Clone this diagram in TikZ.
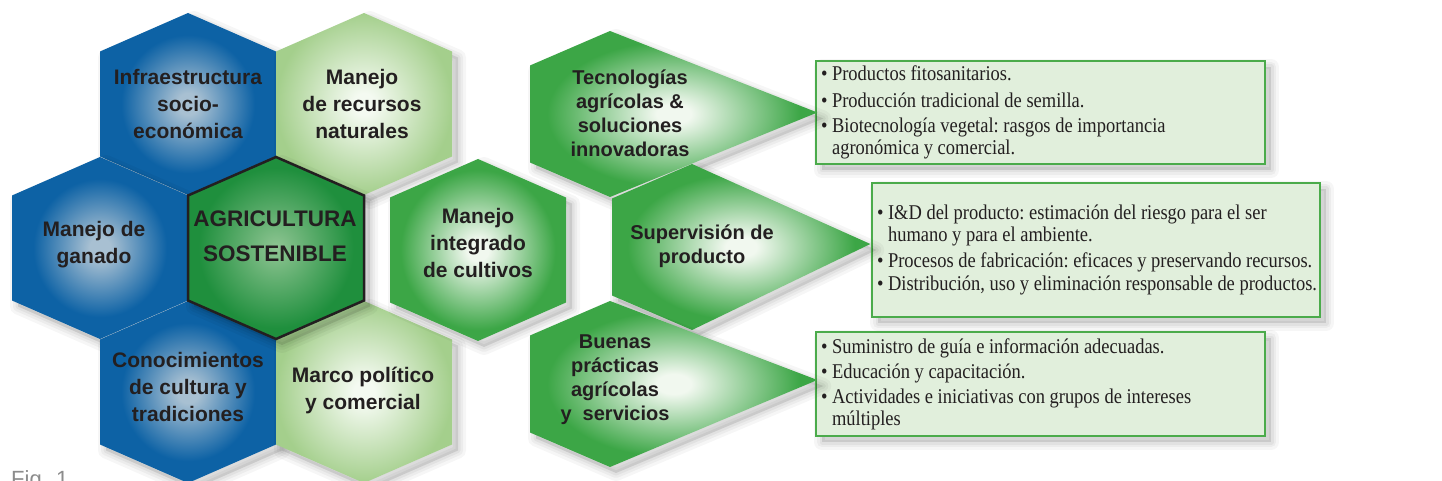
\documentclass[tikz,border=0pt]{standalone}
\usepackage{fontspec}
\setmainfont{Liberation Serif}
\setsansfont{Liberation Sans}
\newfontfamily\boxfont{Liberation Serif}[FakeStretch=0.88]
\usetikzlibrary{shadows,calc,positioning}

\definecolor{bluein}{HTML}{A8C0D2}
\definecolor{blueout}{HTML}{0D62A5}
\definecolor{lgreenin}{HTML}{F4FAF1}
\definecolor{lgreenout}{HTML}{A4CF8C}
\definecolor{mgreenin}{HTML}{F1F8EF}
\definecolor{mgreenout}{HTML}{3CA646}
\definecolor{cgreenin}{HTML}{8FC593}
\definecolor{cgreenout}{HTML}{1F8F3D}
\definecolor{boxfill}{HTML}{E1EFDC}
\definecolor{boxline}{HTML}{4BAB4B}
\definecolor{inkdark}{HTML}{231F20}

\pgfdeclareradialshading{blueshade}{\pgfpoint{0bp}{0bp}}{color(0bp)=(bluein);color(3bp)=(bluein);color(19bp)=(blueout);color(50bp)=(blueout)}
\pgfdeclareradialshading{lgreenshade}{\pgfpoint{0bp}{0bp}}{color(0bp)=(lgreenin);color(3bp)=(lgreenin);color(25bp)=(lgreenout);color(50bp)=(lgreenout)}
\pgfdeclareradialshading{mgreenshade}{\pgfpoint{0bp}{0bp}}{color(0bp)=(mgreenin);color(3bp)=(mgreenin);color(22bp)=(mgreenout);color(50bp)=(mgreenout)}
\pgfdeclareradialshading{cgreenshade}{\pgfpoint{0bp}{0bp}}{color(0bp)=(cgreenin);color(22bp)=(cgreenout);color(50bp)=(cgreenout)}

% hexagon cell around a centre
\newcommand{\hexcell}[2]{\path[#1] (#2) ++(0,-91) -- ++(88,38.5) -- ++(0,105) -- ++(-88,38.5) -- ++(-88,-38.5) -- ++(0,-105) -- cycle;}
% hexagon cell pointing to a box
\newcommand{\arrowcell}[2]{\path[arrowcell] (#1) ++(0,-83) -- (#2) -- ($(#1)+(0,83)$) -- ++(-80,-34.5) -- ++(0,-97) -- cycle;}
% text face of the boxes
\newcommand{\boxtext}{\boxfont\fontsize{21}{22}\selectfont\frenchspacing}

\tikzset{
  softshadow/.style={
    preaction={fill=black, opacity=.10, transform canvas={shift={(6pt,-6pt)}}},
    preaction={draw=black, opacity=.045, line width=5pt, line join=round, transform canvas={shift={(6pt,-6pt)}}},
    preaction={draw=black, opacity=.04, line width=10pt, line join=round, transform canvas={shift={(6pt,-6pt)}}},
    preaction={draw=black, opacity=.035, line width=16pt, line join=round, transform canvas={shift={(6pt,-6pt)}}}},
  bluecell/.style={shade, shading=blueshade, softshadow},
  lgreencell/.style={shade, shading=lgreenshade, softshadow},
  mgreencell/.style={shade, shading=mgreenshade, softshadow},
  centercell/.style={shade, shading=cgreenshade, softshadow, draw=inkdark, line width=2.5pt, line join=miter},
  arrowcell/.style={shade, shading=mgreenshade, softshadow},
  hexlabel/.style={font=\sffamily\bfseries\fontsize{21}{27}\selectfont, text=inkdark, align=center, inner sep=0pt},
  arrowlabel/.style={font=\sffamily\bfseries\fontsize{20}{24}\selectfont, text=inkdark, align=center, inner sep=0pt},
  centerlabel/.style={font=\sffamily\bfseries\fontsize{22.5}{35}\selectfont, text=inkdark, align=center, inner sep=0pt},
  infobox/.style={draw=boxline, line width=1.3pt, fill=boxfill, inner xsep=5pt, inner ysep=0pt, align=left,
    font=\boxtext, text=inkdark, softshadow,
    execute at begin node={\spaceskip=4.6pt plus 1pt minus 1pt\relax}}
}
\newcommand{\bul}{\textbullet\ }
\newcommand{\hang}{\hphantom{\textbullet\ }}

\begin{document}
\begin{tikzpicture}[x=1pt,y=-1pt]
\useasboundingbox[fill=white] (0,0) rectangle (1442,481);

% centres of the cells
\coordinate (infra) at (188,104);
\coordinate (recur) at (364,104);
\coordinate (ganado) at (100,248);
\coordinate (agri) at (276,248);
\coordinate (cultura) at (188,392);
\coordinate (marco) at (364,392);
\coordinate (integ) at (478,250);
\coordinate (tecno) at (610,114);
\coordinate (superv) at (692,247);
\coordinate (buenas) at (610,384);

% honeycomb
\hexcell{bluecell}{infra}
\hexcell{lgreencell}{recur}
\hexcell{bluecell}{ganado}
\hexcell{bluecell}{cultura}
\hexcell{lgreencell}{marco}
\hexcell{mgreencell}{integ}
\hexcell{centercell}{agri}

% boxes
\node[infobox, text width=439pt, minimum height=103pt] (box1) at (1040.5,112.5) {%
\bul Productos fitosanitarios.\\[5pt]
\bul Producción tradicional de semilla.\\[3pt]
\bul Biotecnología vegetal: rasgos de importancia\\
\hang agronómica y comercial.};
\node[infobox, text width=438pt, minimum height=134pt] (box2) at (1096,250) {%
\bul I\&D del producto: estimación del riesgo para el ser\\
\hang humano y para el ambiente.\\[4pt]
\mbox{\bul Procesos de fabricación: eficaces y preservando recursos.}\\[1pt]
\mbox{\bul Distribución, uso y eliminación responsable de productos.}};
\node[infobox, text width=439pt, minimum height=104pt] (box3) at (1040.5,384) {%
\bul Suministro de guía e información adecuadas.\\[3pt]
\bul Educación y capacitación.\\[3pt]
\bul Actividades e iniciativas con grupos de intereses\\
\hang múltiples};

% arrow cells
\arrowcell{tecno}{$(box1.west)+(2,0)$}
\arrowcell{superv}{$(box2.west)+(-1,-6)$}
\arrowcell{buenas}{$(box3.west)+(2,-4)$}

% box edges again on top of the tips
\path[draw=boxline, line width=1.3pt] (box1.north west) rectangle (box1.south east);
\path[draw=boxline, line width=1.3pt] (box2.north west) rectangle (box2.south east);
\path[draw=boxline, line width=1.3pt] (box3.north west) rectangle (box3.south east);

% labels
\node[hexlabel] (lblinfra) at (188,104) {Infraestructura\\socio-\\económica};
\node[hexlabel] (lblrecur) at (362,104) {Manejo\\de recursos\\naturales};
\node[hexlabel] (lblganado) at (94,245) {Manejo de\\ganado};
\node[centerlabel] (lblagri) at (275,236) {AGRICULTURA\\SOSTENIBLE};
\node[hexlabel] (lblcultura) at (188,387) {Conocimientos\\de cultura y\\tradiciones};
\node[hexlabel] (lblmarco) at (363,390) {Marco político\\y comercial};
\node[hexlabel] (lblinteg) at (478,243) {Manejo\\integrado\\de cultivos};
\node[arrowlabel] (lbltecno) at (630,113) {Tecnologías\\agrícolas \&\\soluciones\\innovadoras};
\node[arrowlabel] (lblsuperv) at (702,246) {Supervisión de\\producto};
\node[arrowlabel] (lblbuenas) at (615,380) {Buenas\\prácticas\\agrícolas\\y\ \ servicios};

\node[anchor=north west, inner sep=0pt, font=\sffamily\fontsize{22}{22}\selectfont, text=black!45] (figlbl) at (11,470) {Fig. 1};
\end{tikzpicture}
\end{document}
